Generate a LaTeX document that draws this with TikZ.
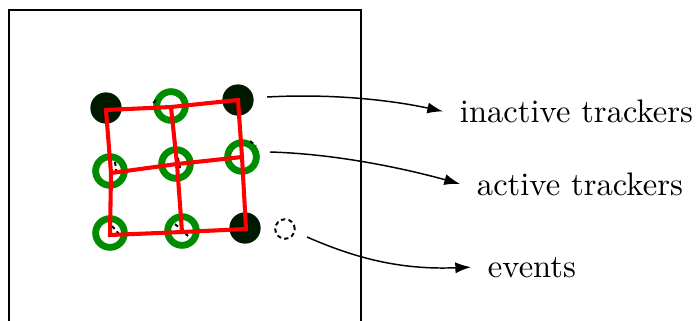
\documentclass[tikz,border=0pt]{standalone}
\usetikzlibrary{arrows.meta}
\definecolor{darkdot}{RGB}{0,26,0}
\definecolor{ringgreen}{RGB}{0,140,0}
\begin{document}
\begin{tikzpicture}[x=0.3067pt,y=-0.3067pt,
  darkdot/.style={circle,fill=darkdot,draw=none,minimum size=9.6pt,inner sep=0pt},
  ring/.style={circle,draw=ringgreen,line width=2.1pt,minimum size=8.8pt,inner sep=0pt},
  gridline/.style={draw=red,line width=1.25pt,line join=miter},
  conn/.style={-{Latex[length=4.8pt,width=3.4pt]},line width=0.45pt},
  lab/.style={anchor=base west,inner xsep=5pt,inner ysep=0pt},
  evt/.style={circle,draw=black,line width=0.6pt,dash pattern=on 1.3pt off 1pt,minimum size=6pt,inner sep=0pt},
  noise/.style={draw=black,line width=0.6pt,dash pattern=on 1.2pt off 1pt}]
\useasboundingbox (0,0) rectangle (700,320);
% frame
\draw[line width=0.75pt] (9,322) -- (9,10) -- (361,10) -- (361,322);
% trackers
\node[darkdot] (t11) at (106,108) {};
\node[ring]    (t12) at (171,106) {};
\node[darkdot] (t13) at (238,100) {};
\node[ring]    (t21) at (110,171) {};
\node[ring]    (t22) at (176,164) {};
\node[ring]    (t23) at (242,157) {};
\node[ring]    (t31) at (110,233) {};
\node[ring]    (t32) at (182,231) {};
\node[darkdot] (t33) at (245,228) {};
% event noise
\node[evt] (ev) at (285,229) {};
\draw[noise] (152,110) arc[start angle=170,end angle=250,radius=10];
\draw[noise] (250,141) -- (256,146);
\draw[noise] (115,162) -- (117,176);
\draw[noise] (178,158) -- (180,168);
\draw[noise] (112,226) -- (119,234);
\draw[noise] (175,224) -- (188,236);
% grid
\coordinate (g11) at (106,110);
\coordinate (g12) at (171,107);
\coordinate (g13) at (238,100);
\coordinate (g21) at (111,173);
\coordinate (g22) at (177,164);
\coordinate (g23) at (242,157);
\coordinate (g31) at (110,235);
\coordinate (g32) at (182,232);
\coordinate (g33) at (246,229);
\draw[gridline] (g11) -- (g12) -- (g13) -- (g23) -- (g33) -- (g32) -- (g31) -- (g21) -- cycle;
\draw[gridline] (g12) -- (g22) -- (g32);
\draw[gridline] (g21) -- (g22) -- (g23);
% labels
\node[lab] (l1) at (443,122.5) {inactive trackers};
\node[lab] (l2) at (460,195) {active trackers};
\node[lab] (l3) at (471,277) {events};
% connectors
\coordinate (a1) at (267,97);
\coordinate (a2) at (270,152);
\coordinate (a3) at (307,237);
\draw[conn] (a1) .. controls (340,93) and (400,102) .. (l1.west);
\draw[conn] (a2) .. controls (340,154) and (410,170) .. (l2.west);
\draw[conn] (a3) .. controls (355,258) and (400,270) .. (l3.west);
\end{tikzpicture}
\end{document}
